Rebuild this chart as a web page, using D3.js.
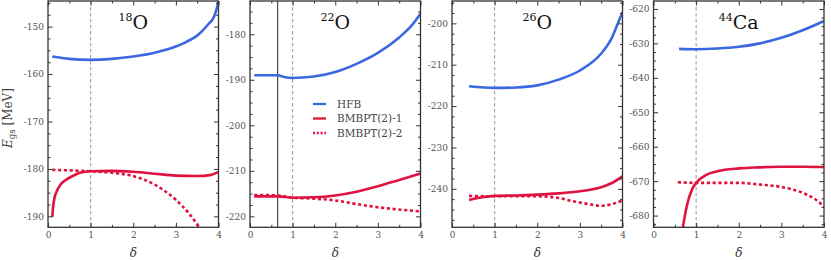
<!DOCTYPE html>
<html><head><meta charset="utf-8">
<script src="https://cdn.jsdelivr.net/npm/d3@7"></script>
<style>
body{margin:0;background:#fff;}
svg{display:block;}
</style></head>
<body><svg id="c" width="831" height="260"></svg>
<script>
// ---- data ----
const nuclei = ["18", "22", "26", "44"];
const elements = ["O", "O", "O", "Ca"];
const yDomains = [[-192.3, -144.6], [-222.4, -172.7], [-249.3, -194.6], [-683.4, -617.7]];
const xTicks = [0, 1, 2, 3, 4];
const seriesNames = ["HFB", "BMBPT(2)-1", "BMBPT(2)-2"];

// 18O
const hfbX_18 = [0.1, 0.5, 1, 1.5, 2, 2.5, 3, 3.25, 3.5, 3.75, 3.9, 3.97, 4];
const hfbY_18 = [-156.3, -156.8, -157.0, -156.8, -156.3, -155.5, -154.2, -153.2, -151.9, -149.6, -147.8, -145.8, -144.6];
const bm1X_18 = [0.1, 0.12, 0.15, 0.2, 0.3, 0.44, 0.6, 0.75, 1, 1.5, 2, 2.5, 3, 3.5, 3.8, 4];
const bm1Y_18 = [-190.1, -188.0, -186.2, -184.8, -183.2, -182.2, -181.4, -180.8, -180.5, -180.4, -180.6, -181.0, -181.4, -181.5, -181.3, -180.6];
const bm2X_18 = [0.1, 0.5, 1, 1.5, 2, 2.5, 3, 3.3, 3.55];
const bm2Y_18 = [-180.2, -180.3, -180.5, -180.8, -181.5, -183.3, -186.5, -189.3, -192.3];

// 22O
const hfbX_22 = [0.1, 0.65, 0.7, 0.8, 1, 1.5, 2, 2.5, 3, 3.5, 3.8, 4];
const hfbY_22 = [-189.0, -189.0, -189.1, -189.4, -189.6, -189.3, -188.3, -186.5, -184.1, -180.7, -178.0, -175.5];
const bm1X_22 = [0.1, 0.65, 1, 1.5, 2, 2.5, 3, 3.5, 4];
const bm1Y_22 = [-215.6, -215.6, -215.9, -215.8, -215.4, -214.6, -213.4, -212.0, -210.6];
const bm2X_22 = [0.1, 0.65, 1, 1.5, 2, 2.5, 3, 3.5, 4];
const bm2Y_22 = [-215.3, -215.4, -215.9, -216.1, -216.5, -217.3, -218.0, -218.5, -218.9];
const vline_22 = 0.65;

// 26O
const hfbX_26 = [0.4, 1, 1.5, 2, 2.5, 3, 3.5, 3.75, 3.9, 4];
const hfbY_26 = [-215.2, -215.6, -215.5, -215.0, -213.6, -211.4, -207.3, -203.5, -199.8, -197.3];
const bm1X_26 = [0.4, 0.6, 1, 1.5, 2, 2.5, 3, 3.3, 3.5, 3.75, 4];
const bm1Y_26 = [-242.7, -242.2, -241.7, -241.6, -241.4, -241.1, -240.6, -240.1, -239.6, -238.6, -237.0];
const bm2X_26 = [0.4, 1, 1.5, 2, 2.5, 2.75, 3, 3.25, 3.5, 3.75, 4];
const bm2Y_26 = [-241.7, -241.8, -241.8, -241.8, -242.2, -242.8, -243.3, -243.8, -244.1, -243.7, -242.8];

// 44Ca
const hfbX_44 = [0.6, 1, 1.5, 2, 2.5, 3, 3.5, 4];
const hfbY_44 = [-631.6, -631.7, -631.5, -631.0, -630.0, -628.4, -626.2, -623.5];
const bm1X_44 = [0.69, 0.78, 0.9, 1, 1.25, 1.5, 2, 2.5, 3, 3.5, 4];
const bm1Y_44 = [-683.4, -677.3, -672.5, -670.5, -668.1, -667.1, -666.3, -666.0, -665.8, -665.8, -665.9];
const bm2X_44 = [0.57, 1, 1.5, 2, 2.5, 3, 3.5, 3.75, 4];
const bm2Y_44 = [-670.3, -670.5, -670.5, -670.5, -671.0, -671.7, -673.4, -674.9, -677.3];

const panels = [
  {hfb: [hfbX_18, hfbY_18], bm1: [bm1X_18, bm1Y_18], bm2: [bm2X_18, bm2Y_18]},
  {hfb: [hfbX_22, hfbY_22], bm1: [bm1X_22, bm1Y_22], bm2: [bm2X_22, bm2Y_22], vline: vline_22},
  {hfb: [hfbX_26, hfbY_26], bm1: [bm1X_26, bm1Y_26], bm2: [bm2X_26, bm2Y_26]},
  {hfb: [hfbX_44, hfbY_44], bm1: [bm1X_44, bm1Y_44], bm2: [bm2X_44, bm2Y_44]}
];

// ---- layout ----
const svg = d3.select("#c");
const lefts = [48, 250, 452, 653.5];
const pw = 170.5, pTop = 1, pBot = 227.3;
const blue = "#3b68e0", red = "#e0123f";
const frameCol = "#333";
const serif = "DejaVu Serif";

const zip = (xs, ys) => xs.map((x, i) => [x, ys[i]]);

panels.forEach((p, i) => {
  const L = lefts[i];
  const x = d3.scaleLinear().domain([0, 4]).range([L, L + pw]);
  const y = d3.scaleLinear().domain(yDomains[i]).range([pBot, pTop]);
  const g = svg.append("g");
  const cid = "clip" + i;
  svg.append("clipPath").attr("id", cid).append("rect")
    .attr("x", L).attr("y", pTop).attr("width", pw).attr("height", pBot - pTop);

  const yMaj = d3.range(Math.ceil(yDomains[i][0] / 10) * 10, yDomains[i][1] + 0.01, 10);
  const yMin = d3.range(Math.ceil(yDomains[i][0] / 2.5) * 2.5, yDomains[i][1] + 0.01, 2.5).filter(v => Math.abs(v % 10) > 0.01);
  const xMin = [0.5, 1.5, 2.5, 3.5];

  // vertical guides
  g.append("line").attr("x1", x(1)).attr("x2", x(1)).attr("y1", pTop).attr("y2", pBot)
    .attr("stroke", "#9a9a9a").attr("stroke-width", 1).attr("stroke-dasharray", "3.5,2.5");
  if (p.vline !== undefined) {
    g.append("line").attr("x1", x(p.vline)).attr("x2", x(p.vline)).attr("y1", pTop).attr("y2", pBot)
      .attr("stroke", "#222").attr("stroke-width", 1);
  }

  const line = d3.line().x(d => x(d[0])).y(d => y(d[1])).curve(d3.curveMonotoneX);
  const lg = g.append("g").attr("clip-path", `url(#${cid})`);
  lg.append("path").attr("d", line(zip(...p.hfb))).attr("fill", "none").attr("stroke", blue).attr("stroke-width", 2.6);
  lg.append("path").attr("d", line(zip(...p.bm2))).attr("fill", "none").attr("stroke", red).attr("stroke-width", 2.6).attr("stroke-dasharray", "3.2,2.6");
  lg.append("path").attr("d", line(zip(...p.bm1))).attr("fill", "none").attr("stroke", red).attr("stroke-width", 2.6);

  // axes
  const fmt = d => String(d);
  const styleAx = sel => {
    sel.attr("font-family", serif);
    sel.select(".domain").remove();
    sel.selectAll("line").attr("stroke", frameCol).attr("stroke-width", 1);
    sel.selectAll("text").attr("font-size", 9).attr("fill", "#555");
  };
  g.append("g").attr("transform", `translate(0,${pBot})`)
    .call(d3.axisBottom(x).tickValues(xTicks).tickFormat(fmt).tickSizeInner(-4.5).tickSizeOuter(0).tickPadding(4)).call(styleAx);
  g.append("g").attr("transform", `translate(0,${pBot})`)
    .call(d3.axisBottom(x).tickValues(xMin).tickFormat("").tickSizeInner(-2.5).tickSizeOuter(0)).call(styleAx);
  g.append("g").attr("transform", `translate(0,${pTop})`)
    .call(d3.axisTop(x).tickValues(xTicks).tickFormat("").tickSizeInner(-4.5).tickSizeOuter(0)).call(styleAx);
  g.append("g").attr("transform", `translate(0,${pTop})`)
    .call(d3.axisTop(x).tickValues(xMin).tickFormat("").tickSizeInner(-2.5).tickSizeOuter(0)).call(styleAx);
  g.append("g").attr("transform", `translate(${L},0)`)
    .call(d3.axisLeft(y).tickValues(yMaj).tickFormat(fmt).tickSizeInner(-4.5).tickSizeOuter(0).tickPadding(4)).call(styleAx);
  g.append("g").attr("transform", `translate(${L},0)`)
    .call(d3.axisLeft(y).tickValues(yMin).tickFormat("").tickSizeInner(-2.5).tickSizeOuter(0)).call(styleAx);
  g.append("g").attr("transform", `translate(${L + pw},0)`)
    .call(d3.axisRight(y).tickValues(yMaj).tickFormat("").tickSizeInner(-4.5).tickSizeOuter(0)).call(styleAx);
  g.append("g").attr("transform", `translate(${L + pw},0)`)
    .call(d3.axisRight(y).tickValues(yMin).tickFormat("").tickSizeInner(-2.5).tickSizeOuter(0)).call(styleAx);

  // frame
  g.append("rect").attr("x", L).attr("y", pTop).attr("width", pw).attr("height", pBot - pTop)
    .attr("fill", "none").attr("stroke", frameCol).attr("stroke-width", 1.3);

  // title
  const t = g.append("text").attr("x", L + pw / 2).attr("y", 29).attr("text-anchor", "middle")
    .attr("font-family", serif).attr("fill", "#111");
  t.append("tspan").attr("font-size", 11).attr("dy", -8).text(nuclei[i]);
  t.append("tspan").attr("font-size", 19).attr("dy", 8).text(elements[i]);

  // x label
  g.append("text").attr("x", L + pw / 2).attr("y", 257).attr("text-anchor", "middle")
    .attr("font-family", serif).attr("font-size", 12).attr("font-style", "italic").attr("fill", "#333").text("δ");

  // legend
  if (i === 1) {
    const lgx = 313, rows = [104, 118.5, 133];
    const leg = g.append("g").attr("font-family", serif);
    seriesNames.forEach((name, k) => {
      leg.append("line").attr("x1", lgx).attr("x2", lgx + 13).attr("y1", rows[k]).attr("y2", rows[k])
        .attr("stroke", k === 0 ? blue : red).attr("stroke-width", 2.3)
        .attr("stroke-dasharray", k === 2 ? "2,1.8" : null);
      leg.append("text").attr("x", lgx + 24).attr("y", rows[k]).attr("dy", "0.35em")
        .attr("font-size", 10.5).attr("fill", "#444").text(name);
    });
  }
});

// y label
const yl = svg.append("text").attr("transform", "translate(12,118) rotate(-90)").attr("text-anchor", "middle")
  .attr("font-family", serif).attr("font-size", 12).attr("fill", "#444");
yl.append("tspan").attr("font-style", "italic").text("E");
yl.append("tspan").attr("font-size", 8.5).attr("dy", 3).text("gs");
yl.append("tspan").attr("dy", -3).text(" [MeV]");
</script>
</body></html>
